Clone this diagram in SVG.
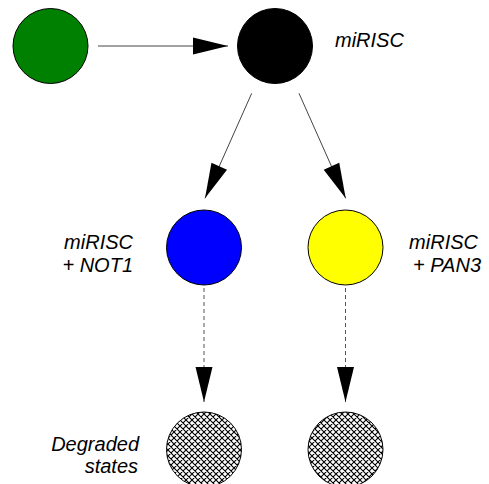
<svg xmlns="http://www.w3.org/2000/svg" width="489" height="484" viewBox="0 0 489 484">
  <style>
    .node { stroke: #000; stroke-width: 1; }
    .label { font-family: "Liberation Sans", Arial, sans-serif; font-style: italic; font-size: 20px; fill: #000; }
    .edge { fill: none; stroke: #444; stroke-width: 1; }
    .dash { stroke-dasharray: 4 3; stroke: #555; }
  </style>
  <defs>
    <marker id="arrow" markerUnits="userSpaceOnUse" markerWidth="36" markerHeight="18" refX="35" refY="8.5" orient="auto" overflow="visible">
      <path d="M0,0 L35,8.5 L0,17 Z" fill="#000"/>
    </marker>
    <pattern id="hatch" patternUnits="userSpaceOnUse" width="6" height="6">
      <rect width="6" height="6" fill="#fff"/>
      <path d="M0,0 L6,6 M-1,5 L1,7 M5,-1 L7,1 M0,6 L6,0 M-1,1 L1,-1 M5,7 L7,5" stroke="#000" stroke-width="1.1"/>
    </pattern>
  </defs>

  <g id="connectors">
    <line class="edge" x1="98" y1="46" x2="228" y2="46" marker-end="url(#arrow)"/>
    <line class="edge" x1="251.7" y1="93.3" x2="205" y2="198.3" marker-end="url(#arrow)"/>
    <line class="edge" x1="299" y1="93.3" x2="345.7" y2="198.3" marker-end="url(#arrow)"/>
    <line class="edge dash" x1="204" y1="288" x2="204" y2="402" marker-end="url(#arrow)"/>
    <line class="edge dash" x1="345.5" y1="288" x2="345.5" y2="402" marker-end="url(#arrow)"/>
  </g>

  <g id="source">
    <circle class="node" cx="50.5" cy="46" r="37.5" fill="#008000"/>
  </g>

  <g id="mirisc">
    <circle class="node" cx="275" cy="46" r="37.5" fill="#000"/>
    <text class="label" x="335" y="47">miRISC</text>
  </g>

  <g id="mirisc-not1">
    <circle class="node" cx="204" cy="247.5" r="37.5" fill="#0000ff"/>
    <text class="label" text-anchor="end" x="133" y="249">miRISC</text>
    <text class="label" text-anchor="end" x="133" y="272">+ NOT1</text>
  </g>

  <g id="mirisc-pan3">
    <circle class="node" cx="345.5" cy="247.5" r="37.5" fill="#ffff00"/>
    <text class="label" text-anchor="end" x="478" y="249">miRISC</text>
    <text class="label" text-anchor="end" x="481" y="272">+ PAN3</text>
  </g>

  <g id="degraded-not1">
    <circle class="node" cx="204" cy="449.5" r="37.5" fill="url(#hatch)"/>
    <text class="label" text-anchor="end" x="139" y="450.5">Degraded</text>
    <text class="label" text-anchor="end" x="138" y="472.5">states</text>
  </g>

  <g id="degraded-pan3">
    <circle class="node" cx="345.5" cy="449.5" r="37.5" fill="url(#hatch)"/>
  </g>
</svg>
